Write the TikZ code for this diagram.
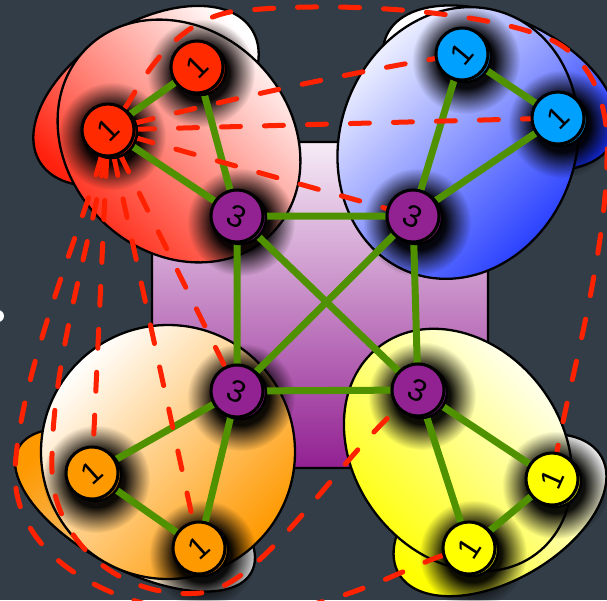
\documentclass[tikz,border=0pt]{standalone}
\usepackage{fontspec}
\setmainfont{Liberation Sans}
\usetikzlibrary{fadings}
\pgfdeclarelayer{bg}
\pgfdeclarelayer{shadow}
\pgfdeclarelayer{lines}
\pgfsetlayers{bg,shadow,lines,main}

\pgfdeclareradialshading{nshadowshade}{\pgfpointorigin}{color(0bp)=(white); color(13bp)=(white); color(25bp)=(black); color(50bp)=(black)}
\pgfdeclarefading{nshadow}{\pgfuseshading{nshadowshade}}

\definecolor{bgc}{RGB}{51,61,71}
\definecolor{ered}{RGB}{255,35,15}
\definecolor{eblue}{RGB}{25,50,255}
\definecolor{eorange}{RGB}{255,153,0}
\definecolor{eyellow}{RGB}{255,255,0}
\definecolor{nred}{RGB}{255,42,0}
\definecolor{nblue}{RGB}{0,160,255}
\definecolor{norange}{RGB}{255,153,0}
\definecolor{nyellow}{RGB}{255,255,0}
\definecolor{npurple}{RGB}{146,34,146}
\definecolor{plight}{RGB}{246,236,246}
\definecolor{pdark}{RGB}{146,32,146}
\definecolor{egreen}{RGB}{80,145,0}
\definecolor{dred}{RGB}{255,34,0}

\tikzset{
  blob/.style={draw=black, line width=2.3pt},
  coin/.style={circle, draw=black, line width=3pt, minimum size=52pt, inner sep=0pt,
    font=\fontsize{31}{31}\selectfont, text=black},
  coinback/.style={draw=black, line width=2.5pt},
  nodeshadow/.style={fill=black, opacity=0.95, path fading=nshadow},
  gedge/.style={draw=egreen, line width=7pt},
  dedge/.style={draw=dred, line width=5pt, line cap=round, dash pattern=on 19pt off 24pt},
}

\newcommand{\drawcoin}[6]{%
  \begin{pgfonlayer}{shadow}
    \path[nodeshadow] (#2+4,#3+6) circle (54);
  \end{pgfonlayer}
  \draw[coinback, fill=#4!80!black] (#2+3,#3+2) circle (26);
  \node[coin, fill=#4, rotate=#6] (#1) at (#2,#3) {#5};
}

\begin{document}
\begin{tikzpicture}[x=1pt,y=-1pt]
\useasboundingbox (0,0) rectangle (607,600);
\clip (0,0) rectangle (607,600);

\begin{pgfonlayer}{bg}
  \fill[bgc] (0,0) rectangle (607,600);
  \fill[white] (-2,316) circle (6);
  % central purple blob
  \draw[blob, rounded corners=100pt, top color=plight, bottom color=pdark] (152,142) rectangle (488,468);
  % red group
  \draw[blob, top color=white, bottom color=ered, shading angle=-45, rotate around={32:(146,96)}]
    (146,96) ellipse [x radius=125, y radius=72];
  \draw[blob, top color=white, bottom color=ered, shading angle=-45, rotate around={-45:(179,141)}]
    (179,141) ellipse [x radius=131, y radius=111];
  % blue group
  \draw[blob, top color=white, bottom color=eblue, shading angle=45, rotate around={-25:(500,88)}]
    (500,88) ellipse [x radius=125, y radius=70];
  \draw[blob, top color=white, bottom color=eblue, shading angle=45, rotate around={70:(458,143)}]
    (458,143) ellipse [x radius=138, y radius=118];
  % orange group
  \draw[blob, top color=eorange, bottom color=white!90!black, shading angle=45, rotate around={-28:(135,510)}]
    (135,510) ellipse [x radius=132, y radius=60];
  \draw[blob, top color=white, bottom color=eorange, shading angle=45]
    (168,452) circle (127);
  % yellow group
  \draw[blob, top color=white, bottom color=eyellow, shading angle=-45, rotate around={30:(500,515)}]
    (500,515) ellipse [x radius=117, y radius=65];
  \draw[blob, top color=white, bottom color=eyellow, shading angle=-45, rotate around={-53:(458,450)}]
    (458,450) ellipse [x radius=130, y radius=104];
\end{pgfonlayer}

% nodes
\drawcoin{R1}{197}{67}{nred}{1}{45}
\drawcoin{R2}{108}{130}{nred}{1}{45}
\drawcoin{P1}{237}{216}{npurple}{3}{-25}
\drawcoin{P2}{413}{216}{npurple}{3}{-25}
\drawcoin{P3}{237}{391}{npurple}{3}{-25}
\drawcoin{P4}{418}{390}{npurple}{3}{-25}
\drawcoin{B1}{462}{54}{nblue}{1}{50}
\drawcoin{B2}{558}{118}{nblue}{1}{45}
\drawcoin{O1}{92}{473}{norange}{1}{42}
\drawcoin{O2}{199}{548}{norange}{1}{42}
\drawcoin{Y1}{552}{479}{nyellow}{1}{66}
\drawcoin{Y2}{469}{548}{nyellow}{1}{57}

\begin{pgfonlayer}{lines}
  % green edges
  \draw[gedge] (R1) -- (R2);
  \draw[gedge] (R1) -- (P1);
  \draw[gedge] (R2) -- (P1);
  \draw[gedge] (B1) -- (B2);
  \draw[gedge] (B1) -- (P2);
  \draw[gedge] (B2) -- (P2);
  \draw[gedge] (O1) -- (O2);
  \draw[gedge] (O1) -- (P3);
  \draw[gedge] (O2) -- (P3);
  \draw[gedge] (Y1) -- (Y2);
  \draw[gedge] (Y1) -- (P4);
  \draw[gedge] (Y2) -- (P4);
  \draw[gedge] (P1) -- (P2);
  \draw[gedge] (P1) -- (P3);
  \draw[gedge] (P2) -- (P4);
  \draw[gedge] (P3) -- (P4);
  \draw[gedge] (P1) -- (P4);
  \draw[gedge] (P2) -- (P3);
  % dashed hyperedges
  \draw[dedge] (R2) .. controls (135,95) and (165,25) .. (230,12)
    .. controls (330,0) and (470,10) .. (540,35)
    .. controls (590,53) and (610,100) .. (607,160)
    .. controls (605,260) and (570,380) .. (Y1);
  \draw[dedge] (R2) .. controls (226,100) and (344,74) .. (B1);
  \draw[dedge] (R2) -- (B2);
  \draw[dedge] (R2) -- (P2);
  \draw[dedge] (R2) -- (P3);
  \draw[dedge] (R2) -- (O2);
  \draw[dedge] (R2) -- (O1);
  \draw[dedge] (R2) .. controls (95,230) and (50,360) .. (52,470)
    .. controls (53,540) and (120,600) .. (200,593)
    .. controls (260,588) and (330,470) .. (P4);
  \draw[dedge] (R2) .. controls (85,220) and (20,370) .. (15,470)
    .. controls (12,560) and (120,615) .. (230,615)
    .. controls (330,615) and (410,565) .. (Y2);
\end{pgfonlayer}
\end{tikzpicture}
\end{document}
